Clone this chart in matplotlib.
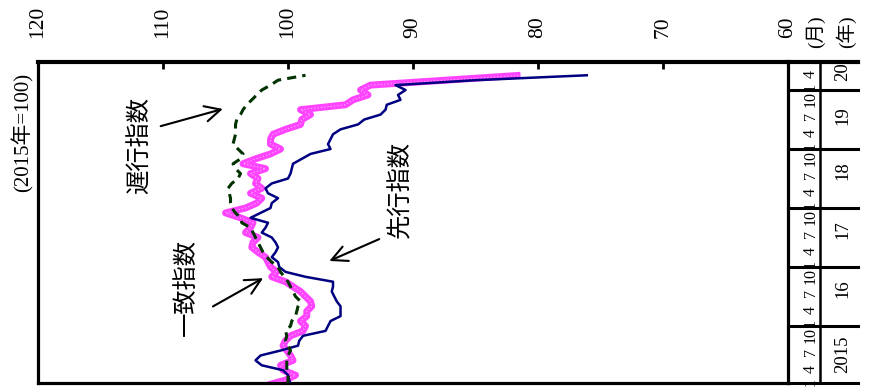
import numpy as np
import matplotlib
matplotlib.use('Agg')
import matplotlib.pyplot as plt
import matplotlib.transforms as mtrans

# 景気動向指数 (CI, 2015年=100), 2015/1 ～ 2020/4, monthly
leading = [99.8, 99.9, 100.0, 100.4, 102.1, 102.6, 102.2, 100.6, 99.2, 99.1,
           98.8, 97.0, 96.8, 96.6, 95.8, 95.8, 95.8, 96.1, 96.3, 96.5,
           96.4, 96.4, 98.6, 100.2, 100.7, 100.8, 101.3, 101.0, 100.8, 101.0,
           101.3, 102.1, 101.8, 101.6, 103.0, 102.2, 101.4, 101.3, 100.8, 101.6,
           101.8, 101.3, 100.0, 99.8, 99.7, 99.6, 98.9, 98.2, 96.6, 96.8,
           96.6, 96.4, 95.8, 94.4, 93.9, 92.6, 92.2, 92.1, 91.0, 91.2,
           90.6, 91.4, 85.0, 76.1]
coincident = [101.6, 100.2, 99.4, 100.4, 100.6, 99.6, 99.8, 100.1, 100.4, 100.2,
              99.8, 98.8, 98.6, 99.0, 98.5, 98.5, 98.1, 98.2, 98.6, 99.0,
              99.6, 100.2, 101.3, 100.9, 101.4, 101.6, 101.8, 102.4, 102.9, 102.8,
              102.4, 103.4, 103.0, 102.8, 103.8, 105.0, 103.4, 102.5, 102.1, 103.0,
              102.1, 102.6, 102.4, 103.0, 101.8, 103.6, 102.6, 101.4, 100.6, 101.4,
              101.4, 101.2, 100.2, 99.0, 98.9, 98.2, 99.0, 95.4, 94.8, 93.6,
              94.2, 93.4, 87.4, 81.4]
lagging = [100.0, 100.0, 100.0, 100.1, 100.1, 100.1, 100.0, 99.8, 100.0, 100.2,
           100.1, 100.2, 99.8, 99.7, 99.4, 99.3, 99.2, 99.0, 99.4, 99.6,
           99.8, 100.0, 100.3, 100.6, 100.8, 101.3, 101.7, 102.0, 102.2, 102.4,
           102.6, 102.8, 103.0, 103.7, 103.8, 104.2, 104.5, 104.6, 104.6, 104.7,
           104.8, 104.5, 104.0, 103.8, 104.2, 104.4, 103.8, 103.6, 104.0, 104.4,
           104.3, 104.2, 104.2, 104.2, 104.1, 103.8, 103.6, 103.3, 102.9, 102.5,
           102.1, 101.4, 100.8, 98.6]

value_ticks = [120, 110, 100, 90, 80, 70, 60]
year_labels = ['2015', '16', '17', '18', '19', '20']
month_labels = ['1', '4', '7', '10']

months = np.arange(len(leading))  # 0 = 2015年1月

plt.rcParams['font.family'] = ['Liberation Serif', 'Noto Sans CJK JP']

fig = plt.figure(figsize=(8.72, 3.88), dpi=100)
ax = fig.add_axes([0.0436, 0.0129, 0.8601, 0.8273])

# chart is drawn turned 90 degrees: value runs left-right, time runs upward
ax.plot(coincident, months, color='#FF44FF', lw=5, solid_capstyle='butt', zorder=2)
ax.plot(coincident, months, color='#FFB0FF', lw=0.8, ls=(0, (1, 2)), zorder=2.1)
ax.plot(leading, months, color='#000080', lw=1.8, zorder=3)
ax.plot(lagging, months, color='#003300', lw=2.2, ls=(0, (3, 2)), zorder=4)

ax.set_xlim(120, 60)
ax.set_ylim(0.4, 65.7)

for s in ax.spines.values():
    s.set_linewidth(2.3)
ax.spines['top'].set_linewidth(3)

ax.xaxis.tick_top()
ax.set_xticks(value_ticks)
ax.set_xticklabels([str(v) for v in value_ticks], rotation=90, fontsize=15.5)
ax.tick_params(axis='x', direction='in', length=5, width=2, pad=17)
ax.set_yticks([])

# month / year columns on the right
tr = mtrans.blended_transform_factory(ax.transAxes, ax.transData)
for i, yl in enumerate(year_labels):
    base = 12 * i
    if base > 0:
        ax.plot([1.0, 1.0933], [base, base], color='black', lw=2.2,
                transform=tr, clip_on=False, zorder=1)
    for lab, off in zip(month_labels, [0.6, 3.2, 6.7, 10.2]):
        if base + off < 65.5:
            ax.text(1.0307, base + off, lab, transform=tr, rotation=90,
                    ha='center', va='center', fontsize=11.5, zorder=5)
year_pos = [6.3, 19.6, 31.5, 43.6, 54.8, 63.7]
for yl, yp in zip(year_labels, year_pos):
    ax.text(1.0733, yp, yl, transform=tr, rotation=90,
            ha='center', va='center', fontsize=13.5)

ax.plot([1.0, 1.0933], [1, 1], color='black', lw=3, transform=ax.transAxes, clip_on=False)
ax.plot([1.0, 1.0933], [0, 0], color='black', lw=2.2, transform=ax.transAxes, clip_on=False)
ax.plot([1.0427, 1.0427], [0, 1], color='black', lw=1.8, transform=ax.transAxes, clip_on=False)

ax.text(1.036, 1.093, '(月)', transform=ax.transAxes, rotation=90,
        ha='center', va='center', fontsize=14)
ax.text(1.077, 1.093, '(年)', transform=ax.transAxes, rotation=90,
        ha='center', va='center', fontsize=14)

ax.text(-0.02, 0.782, '(2015年=100)', transform=ax.transAxes, rotation=90,
        ha='center', va='center', fontsize=15)

# labels with arrows
ax.text(111.8, 48.8, '遅行指数', rotation=90, ha='center', va='center', fontsize=17.5)
ax.annotate('', xy=(105.0, 56.3), xytext=(110.4, 52.5),
            arrowprops=dict(arrowstyle='->', lw=1.5, mutation_scale=28, color='black'))
ax.text(108.1, 19.9, '一致指数', rotation=90, ha='center', va='center', fontsize=17.5)
ax.annotate('', xy=(101.8, 22.0), xytext=(106.2, 15.7),
            arrowprops=dict(arrowstyle='->', lw=1.5, mutation_scale=28, color='black'))
ax.text(91.0, 39.7, '先行指数', rotation=90, ha='center', va='center', fontsize=17.5)
ax.annotate('', xy=(96.9, 25.0), xytext=(92.5, 29.9),
            arrowprops=dict(arrowstyle='->', lw=1.5, mutation_scale=28, color='black'))

fig.savefig('out.png', dpi=100)
